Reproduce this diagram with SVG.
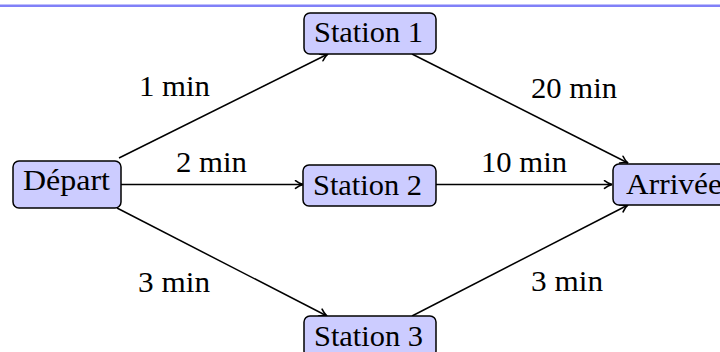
<svg xmlns="http://www.w3.org/2000/svg" width="720" height="352" viewBox="0 0 720 352">
  <style>
    .box { fill: #ccccff; stroke: #000; stroke-width: 1.5; }
    .lbl { font-family: "Liberation Serif", "Times New Roman", serif; font-size: 29px; fill: #000; }
    .edge { fill: none; stroke: #000; stroke-width: 1.5; marker-end: url(#tip); }
  </style>
  <defs>
    <marker id="tip" viewBox="0 0 10 10" refX="9" refY="5" markerWidth="10" markerHeight="10" markerUnits="userSpaceOnUse" orient="auto">
      <path d="M1.5,1.2 Q5,4 9,5 Q5,6 1.5,8.8" fill="none" stroke="#000" stroke-width="1.6" stroke-linecap="round"/>
    </marker>
  </defs>

  <!-- header rule -->
  <rect x="0" y="4.5" width="720" height="2.5" fill="#8080f8"/>

  <!-- connectors -->
  <g id="edges">
    <line class="edge" x1="119" y1="158" x2="328" y2="54"/>
    <line class="edge" x1="121" y1="184.5" x2="303" y2="184.5"/>
    <line class="edge" x1="117" y1="208" x2="327" y2="316"/>
    <line class="edge" x1="412" y1="54" x2="628" y2="163"/>
    <line class="edge" x1="436" y1="184.5" x2="612" y2="184.5"/>
    <line class="edge" x1="412" y1="316" x2="628" y2="205"/>

    <text class="lbl" x="139" y="96" textLength="71" lengthAdjust="spacingAndGlyphs">1 min</text>
    <text class="lbl" x="176" y="172" textLength="71" lengthAdjust="spacingAndGlyphs">2 min</text>
    <text class="lbl" x="138" y="292" textLength="72" lengthAdjust="spacingAndGlyphs">3 min</text>
    <text class="lbl" x="531" y="98" textLength="86" lengthAdjust="spacingAndGlyphs">20 min</text>
    <text class="lbl" x="481" y="172" textLength="86" lengthAdjust="spacingAndGlyphs">10 min</text>
    <text class="lbl" x="531" y="291" textLength="72" lengthAdjust="spacingAndGlyphs">3 min</text>
  </g>

  <g id="depart">
    <rect class="box" x="13" y="161" width="108" height="47" rx="6"/>
    <text class="lbl" x="23" y="190" textLength="87" lengthAdjust="spacingAndGlyphs">Départ</text>
  </g>

  <g id="station1">
    <rect class="box" x="304" y="13" width="132" height="41" rx="6"/>
    <text class="lbl" x="314" y="42" textLength="109" lengthAdjust="spacingAndGlyphs">Station 1</text>
  </g>

  <g id="station2">
    <rect class="box" x="303" y="165" width="133" height="41" rx="6"/>
    <text class="lbl" x="313" y="195" textLength="109" lengthAdjust="spacingAndGlyphs">Station 2</text>
  </g>

  <g id="station3">
    <rect class="box" x="304" y="316" width="132" height="41" rx="6"/>
    <text class="lbl" x="314" y="346" textLength="109" lengthAdjust="spacingAndGlyphs">Station 3</text>
  </g>

  <g id="arrivee">
    <rect class="box" x="613" y="164" width="120" height="41" rx="6"/>
    <text class="lbl" x="626" y="194" textLength="96" lengthAdjust="spacingAndGlyphs">Arrivée</text>
  </g>
</svg>
